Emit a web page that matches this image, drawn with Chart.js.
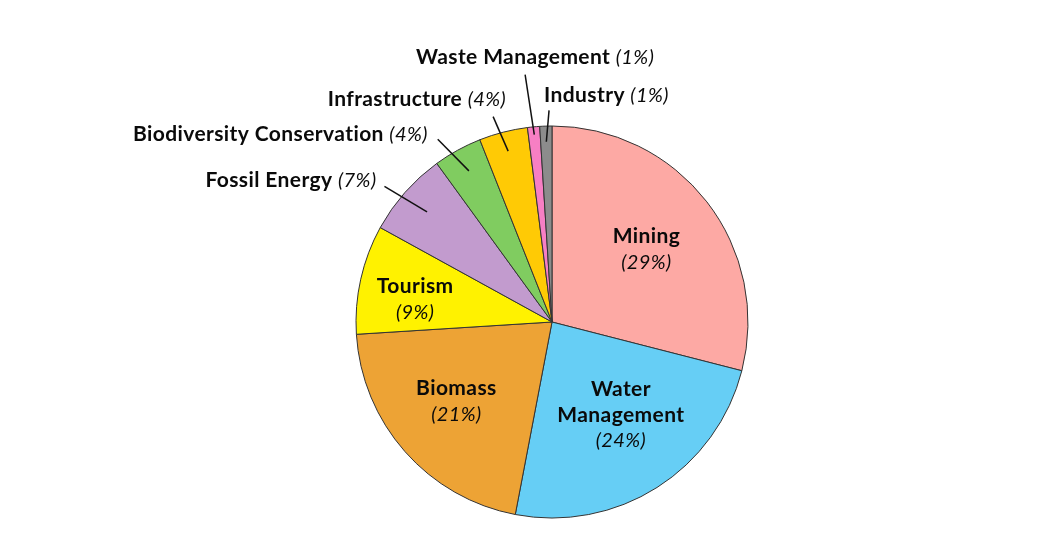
<!DOCTYPE html>
<html>
<head>
<meta charset="utf-8">
<script src="https://cdn.jsdelivr.net/npm/chart.js@4"></script>
<style>
  html, body { margin: 0; padding: 0; background: #fff; }
  #wrap { width: 1052px; height: 542px; }
</style>
</head>
<body>
<div id="wrap"><canvas id="canvas"></canvas></div>
<script>
// Dữ liệu biểu đồ
const categories = ['Mining', 'Water Management', 'Biomass', 'Tourism', 'Fossil Energy',
    'Biodiversity Conservation', 'Infrastructure', 'Waste Management', 'Industry'];
const shares = [29, 24, 21, 9, 7, 4, 4, 1, 1];
const sliceColors = ['#FDA9A4', '#66CEF5', '#EDA335', '#FFF200', '#C29BCE',
    '#80CC60', '#FFCA05', '#F77FC4', '#8C8C8C'];

// Nhãn bên trong lát: dòng chữ đậm, hệ số bán kính, dịch chuyển nhỏ
const insideLabels = {
    0: { lines: ['Mining'], r: 0.61, dx: 0, dy: 1 },
    1: { lines: ['Water', 'Management'], r: 0.58, dx: 8, dy: -3 },
    2: { lines: ['Biomass'], r: 0.63, dx: -3, dy: -2 },
    3: { lines: ['Tourism'], r: 0.71, dx: -1, dy: 8 }
};
// Nhãn bên ngoài có đường dẫn (turn: độ lệch góc của đầu ngoài)
const outsideLabels = {
    4: { inner: 0.85, outer: 1.10, turn: -2.4, align: 'right', dx: -8, dy: -6 },
    5: { inner: 0.88, outer: 1.10, turn: -3.2, align: 'right', dx: -10, dy: -5 },
    6: { inner: 0.90, outer: 1.09, turn: -1.6, align: 'right', dx: 13, dy: -17 },
    7: { inner: 0.96, outer: 1.27, turn: -0.8, align: 'center', dx: 10, dy: -17 },
    8: { inner: 0.92, outer: 1.08, turn: 1.0, align: 'left', dx: -5, dy: -15 }
};

const FONT = 'Lato, "DejaVu Sans", sans-serif';
const boldFont = 'bold 21px ' + FONT;
const italicFont = 'italic 20px ' + FONT;
const SPACING = '0.4px';

function pct(v) { return '(' + v + '%)'; }

const labelPlugin = {
    id: 'sliceLabels',
    afterDatasetsDraw(chart) {
        const ctx = chart.ctx;
        const arcs = chart.getDatasetMeta(0).data;
        ctx.save();
        ctx.fillStyle = '#0a0a0a';
        ctx.strokeStyle = '#111';
        ctx.textBaseline = 'middle';
        ctx.letterSpacing = SPACING;
        arcs.forEach((arc, i) => {
            const p = arc.getProps(['x', 'y', 'startAngle', 'endAngle', 'outerRadius'], true);
            const mid = (p.startAngle + p.endAngle) / 2;
            const R = p.outerRadius;
            const at = (f, turn) => {
                const a = mid + (turn || 0) * Math.PI / 180;
                return { x: p.x + Math.cos(a) * R * f, y: p.y + Math.sin(a) * R * f };
            };

            if (insideLabels[i]) {
                const cfg = insideLabels[i];
                const c = at(cfg.r);
                const lines = cfg.lines.map(t => ({ t, font: boldFont }));
                lines.push({ t: pct(shares[i]), font: italicFont });
                const lh = 26;
                const top = c.y + cfg.dy - (lines.length - 1) * lh / 2;
                ctx.textAlign = 'center';
                lines.forEach((l, k) => {
                    ctx.font = l.font;
                    ctx.fillText(l.t, c.x + cfg.dx, top + k * lh);
                });
            } else if (outsideLabels[i]) {
                const cfg = outsideLabels[i];
                const a = at(cfg.inner), b = at(cfg.outer, cfg.turn);
                ctx.lineWidth = 1.5;
                ctx.beginPath();
                ctx.moveTo(a.x, a.y);
                ctx.lineTo(b.x, b.y);
                ctx.stroke();

                const name = categories[i] + ' ';
                const tail = pct(shares[i]);
                ctx.font = boldFont;
                const w1 = ctx.measureText(name).width;
                ctx.font = italicFont;
                const w2 = ctx.measureText(tail).width;
                const ax = b.x + cfg.dx, ty = b.y + cfg.dy;
                let x0 = ax;
                if (cfg.align === 'right') x0 = ax - w1 - w2;
                else if (cfg.align === 'center') x0 = ax - (w1 + w2) / 2;
                ctx.textAlign = 'left';
                ctx.font = boldFont;
                ctx.fillText(name, x0, ty);
                ctx.font = italicFont;
                ctx.fillText(tail, x0 + w1, ty);
            }
        });
        ctx.restore();
    }
};

const ctx = document.getElementById('canvas').getContext('2d');
new Chart(ctx, {
    type: 'pie',
    data: {
        labels: categories,
        datasets: [{
            data: shares,
            backgroundColor: sliceColors,
            borderColor: '#333',
            borderWidth: 1
        }]
    },
    options: {
        responsive: true,
        maintainAspectRatio: false,
        animation: false,
        radius: 196,
        layout: { padding: { left: 52, right: 0, top: 126, bottom: 24 } },
        plugins: {
            legend: { display: false },
            tooltip: { enabled: false }
        }
    },
    plugins: [labelPlugin]
});
</script>
</body>
</html>
